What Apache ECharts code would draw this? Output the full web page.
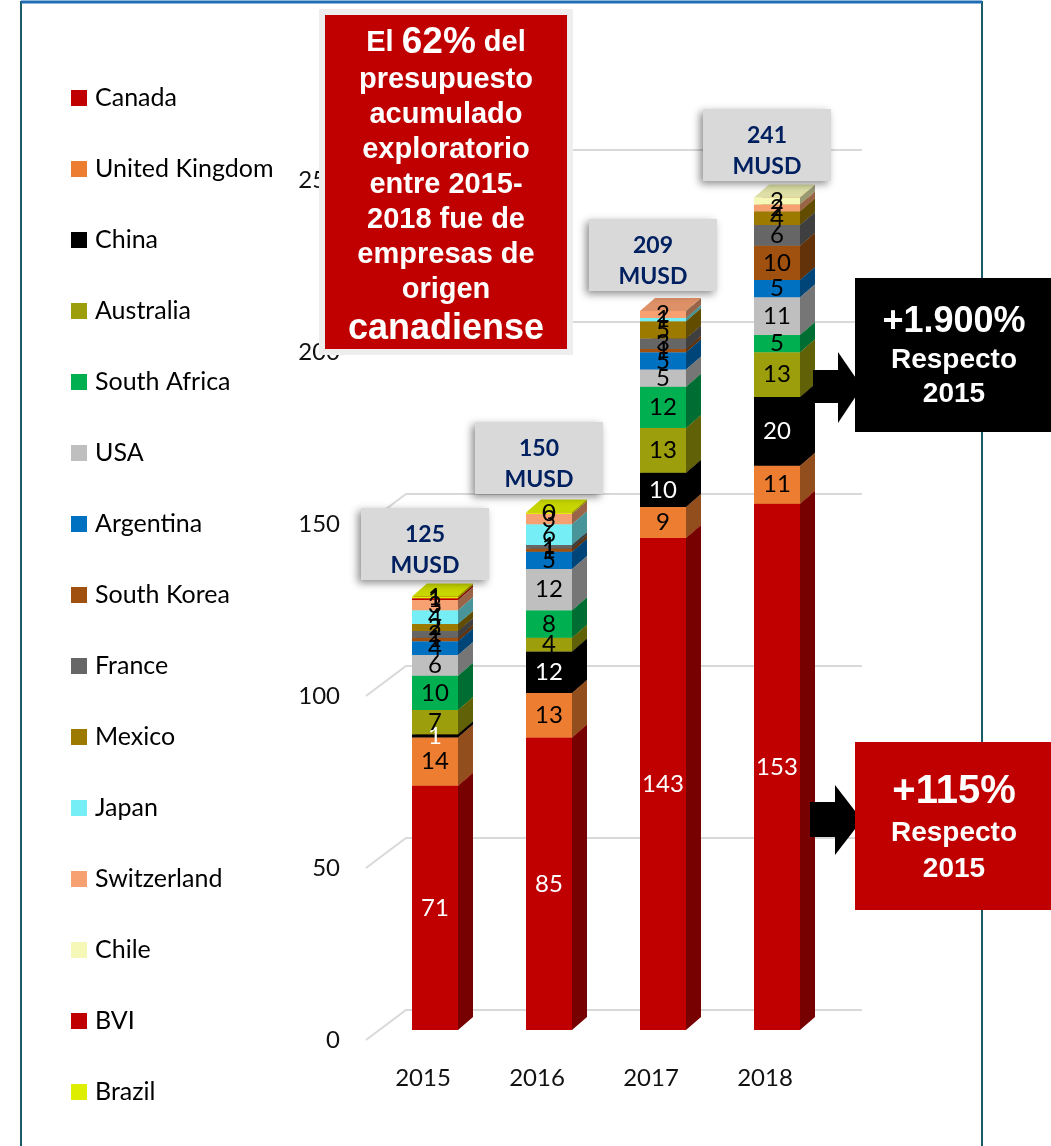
<!DOCTYPE html>
<html>
<head>
<meta charset="utf-8">
<script src="https://cdn.jsdelivr.net/npm/echarts@6/dist/echarts.min.js"></script>
<style>
html,body{margin:0;padding:0;background:#fff;}
#chart{width:1051px;height:1146px;}
</style>
</head>
<body>
<div id="chart"></div>
<script>
// ---------------- DATA ----------------
const years = ['2015', '2016', '2017', '2018'];
const countries = ['Canada', 'United Kingdom', 'China', 'Australia', 'South Africa', 'USA', 'Argentina',
  'South Korea', 'France', 'Mexico', 'Japan', 'Switzerland', 'Chile', 'BVI', 'Brazil'];
const canada = [71, 85, 143, 153];
const unitedKingdom = [14, 13, 9, 11];
const china = [1, 12, 10, 20];
const australia = [7, 4, 13, 13];
const southAfrica = [10, 8, 12, 5];
const usa = [6, 12, 5, 11];
const argentina = [4, 5, 5, 5];
const southKorea = [1, 1, 1, 10];
const france = [2, 1, 3, 6];
const mexico = [2, 0, 5, 4];
const japan = [4, 6, 1, 0];
const switzerland = [3, 3, 2, 2];
const chile = [0, 0, 0, 2];
const bvi = [0.5, 0, 0, 0];
const brazil = [0.5, 0.4, 0, 0];
const totals = [125, 150, 209, 241];
const yTicks = [0, 50, 100, 150, 200, 250];

const seriesValues = [canada, unitedKingdom, china, australia, southAfrica, usa, argentina,
  southKorea, france, mexico, japan, switzerland, chile, bvi, brazil];
const colors = ['#C00000', '#ED7D31', '#000000', '#9C9E0B', '#00B050', '#BFBFBF', '#0070C0',
  '#A0500F', '#666666', '#9C7A00', '#75EEF5', '#F7A172', '#F6F8B8', '#C00000', '#DDEE00'];
const labelColors = ['#ffffff', '#000', '#ffffff', '#000', '#000', '#000', '#000',
  '#000', '#000', '#000', '#000', '#000', '#000', '#000', '#000'];

// ---------------- STYLE CONSTANTS ----------------
const BAR_DX = 12, BAR_DY = -10, BAR_W = 46, DEPTH_X = 15, DEPTH_Y = -13;
const WALL_X = 40, WALL_Y = -30;
const FONT = 'Lato, "Noto Sans", sans-serif';

function shade(hex, f) {
  const n = parseInt(hex.slice(1), 16);
  const r = Math.round(((n >> 16) & 255) * f), g = Math.round(((n >> 8) & 255) * f), b = Math.round((n & 255) * f);
  return 'rgb(' + Math.min(255, r) + ',' + Math.min(255, g) + ',' + Math.min(255, b) + ')';
}

function makeBarRender(si) {
  return function (params, api) {
    const ci = api.value(0), base = api.value(1), val = api.value(2);
    if (!(val > 0)) return null;
    const p0 = api.coord([ci, base]);
    const p1 = api.coord([ci, base + val]);
    const cx = p0[0] + BAR_DX;
    const x0 = cx - BAR_W / 2, x1 = cx + BAR_W / 2;
    const yb = p0[1] + BAR_DY, yt = p1[1] + BAR_DY;
    const c = colors[si];
    const children = [
      { type: 'polygon', z2: 1, shape: { points: [[x0, yb], [x1, yb], [x1, yt], [x0, yt]] }, style: { fill: c } },
      { type: 'polygon', z2: 1, shape: { points: [[x1, yb], [x1 + DEPTH_X, yb + DEPTH_Y], [x1 + DEPTH_X, yt + DEPTH_Y], [x1, yt]] }, style: { fill: shade(c, 0.62) } },
      { type: 'polygon', z2: 1, shape: { points: [[x0, yt], [x1, yt], [x1 + DEPTH_X, yt + DEPTH_Y], [x0 + DEPTH_X, yt + DEPTH_Y]] }, style: { fill: shade(c, 0.9) } },
      { type: 'text', z2: 50, style: { x: cx, y: (yb + yt) / 2, text: String(Math.round(val)), fill: labelColors[si],
        font: '24px ' + FONT, align: 'center', verticalAlign: 'middle' } }
    ];
    return { type: 'group', children: children };
  };
}

const barSeries = seriesValues.map(function (vals, si) {
  const data = vals.map(function (v, ci) {
    let base = 0;
    for (let k = 0; k < si; k++) base += seriesValues[k][ci];
    return [ci, base, v];
  });
  return {
    type: 'custom', name: countries[si], coordinateSystem: 'cartesian2d', z: 3,
    itemStyle: { color: colors[si] },
    encode: { x: 0, y: 1 },
    renderItem: makeBarRender(si),
    data: data
  };
});

const gridSeries = {
  type: 'custom', name: 'grid3d', coordinateSystem: 'cartesian2d', z: 1, silent: true,
  encode: { x: 0, y: 1 },
  renderItem: function (params, api) {
    const v = api.value(1);
    const y = api.coord([0, v])[1];
    const left = params.coordSys.x, right = params.coordSys.x + params.coordSys.width;
    return { type: 'polyline', shape: { points: [[left, y], [left + WALL_X, y + WALL_Y], [right + WALL_X, y + WALL_Y]] },
      style: { stroke: '#D9D9D9', lineWidth: 2, fill: null } };
  },
  data: yTicks.map(function (t) { return [0, t]; })
};

const totalSeries = {
  type: 'custom', name: 'totals', coordinateSystem: 'cartesian2d', z: 5, silent: true,
  encode: { x: 0, y: 1 },
  renderItem: function (params, api) {
    const ci = api.value(0), t = api.value(1);
    const p = api.coord([ci, t]);
    const cx = p[0] + 2;
    const bottom = p[1] + BAR_DY - 20;
    const w = 128, h = 72;
    return { type: 'group', children: [
      { type: 'rect', shape: { x: cx - w / 2, y: bottom - h, width: w, height: h },
        style: { fill: '#D9D9D9', shadowBlur: 8, shadowColor: 'rgba(0,0,0,0.45)', shadowOffsetX: -3, shadowOffsetY: 3 } },
      { type: 'text', style: { x: cx, y: bottom - h + 27, text: String(t), fill: '#002060', font: 'bold 23px ' + FONT, align: 'center', verticalAlign: 'middle' } },
      { type: 'text', style: { x: cx, y: bottom - h + 58, text: 'MUSD', fill: '#002060', font: 'bold 23px ' + FONT, align: 'center', verticalAlign: 'middle' } }
    ] };
  },
  data: totals.map(function (t, i) { return [i, t]; })
};

const chart = echarts.init(document.getElementById('chart'), null, { renderer: 'canvas' });
const SANS = '"Liberation Sans", Arial, sans-serif';
chart.setOption({
  backgroundColor: '#ffffff',
  animation: false,
  grid: { left: 366, right: 229, top: 180, bottom: 106 },
  legend: {
    data: countries, orient: 'vertical', left: 71, top: 85, padding: 0, itemWidth: 16, itemHeight: 16, itemGap: 45,
    icon: 'rect', selectedMode: false,
    textStyle: { fontFamily: FONT, fontSize: 25, lineHeight: 26, color: '#000', padding: [0, 0, 0, 3] }
  },
  xAxis: {
    type: 'category', data: years,
    axisLine: { show: false }, axisTick: { show: false }, splitLine: { show: false },
    axisLabel: { fontFamily: FONT, fontSize: 24, color: '#111', margin: 26 }
  },
  yAxis: {
    type: 'value', min: 0, max: 250, interval: 50,
    axisLine: { show: false }, axisTick: { show: false }, splitLine: { show: false },
    axisLabel: { fontFamily: FONT, fontSize: 24, color: '#111', margin: 26 }
  },
  series: [gridSeries].concat(barSeries).concat([totalSeries]),
  graphic: [
    // outer frame
    { type: 'rect', z: 100, shape: { x: 21, y: 2, width: 961, height: 1170 }, style: { fill: null, stroke: '#1B5C68', lineWidth: 2 } },
    { type: 'line', z: 101, shape: { x1: 21, y1: 2, x2: 982, y2: 2 }, style: { stroke: '#1F6DB3', lineWidth: 3 } },
    // top red box
    { type: 'rect', z: 100, shape: { x: 322, y: 12, width: 248, height: 340 }, style: { fill: '#C00000', stroke: '#EEEEEE', lineWidth: 6 } },
    { type: 'text', z: 101, style: {
        x: 446, y: 24, align: 'center', verticalAlign: 'top', fill: '#fff',
        text: '{a|El }{b|62%}{a| del}\n{a|presupuesto}\n{a|acumulado}\n{a|exploratorio}\n{a|entre 2015-}\n{a|2018 fue de}\n{a|empresas de}\n{a|origen}\n{c|canadiense}',
        rich: {
          a: { fontFamily: SANS, fontWeight: 'bold', fontSize: 29, lineHeight: 35, fill: '#fff' },
          b: { fontFamily: SANS, fontWeight: 'bold', fontSize: 37, lineHeight: 38, fill: '#fff' },
          c: { fontFamily: SANS, fontWeight: 'bold', fontSize: 36, lineHeight: 44, fill: '#fff' }
        }
      } },
    // arrows
    { type: 'polygon', z: 99, shape: { points: [[813, 370], [838, 370], [838, 352], [862, 387], [838, 423], [838, 403], [813, 403]] }, style: { fill: '#000' } },
    { type: 'polygon', z: 99, shape: { points: [[810, 802], [835, 802], [835, 785], [862, 820], [835, 855], [835, 837], [810, 837]] }, style: { fill: '#000' } },
    // black box
    { type: 'rect', z: 100, shape: { x: 855, y: 278, width: 200, height: 154 }, style: { fill: '#000' } },
    { type: 'text', z: 101, style: { x: 954, y: 322, text: '+1.900%', fill: '#fff', font: 'bold 36px ' + SANS, align: 'center', verticalAlign: 'middle' } },
    { type: 'text', z: 101, style: { x: 954, y: 360, text: 'Respecto', fill: '#fff', font: 'bold 28px ' + SANS, align: 'center', verticalAlign: 'middle' } },
    { type: 'text', z: 101, style: { x: 954, y: 394, text: '2015', fill: '#fff', font: 'bold 28px ' + SANS, align: 'center', verticalAlign: 'middle' } },
    // red bottom box
    { type: 'rect', z: 100, shape: { x: 855, y: 742, width: 200, height: 168 }, style: { fill: '#C00000' } },
    { type: 'text', z: 101, style: { x: 954, y: 792, text: '+115%', fill: '#fff', font: 'bold 40px ' + SANS, align: 'center', verticalAlign: 'middle' } },
    { type: 'text', z: 101, style: { x: 954, y: 833, text: 'Respecto', fill: '#fff', font: 'bold 28px ' + SANS, align: 'center', verticalAlign: 'middle' } },
    { type: 'text', z: 101, style: { x: 954, y: 869, text: '2015', fill: '#fff', font: 'bold 28px ' + SANS, align: 'center', verticalAlign: 'middle' } }
  ]
});
</script>
</body>
</html>
